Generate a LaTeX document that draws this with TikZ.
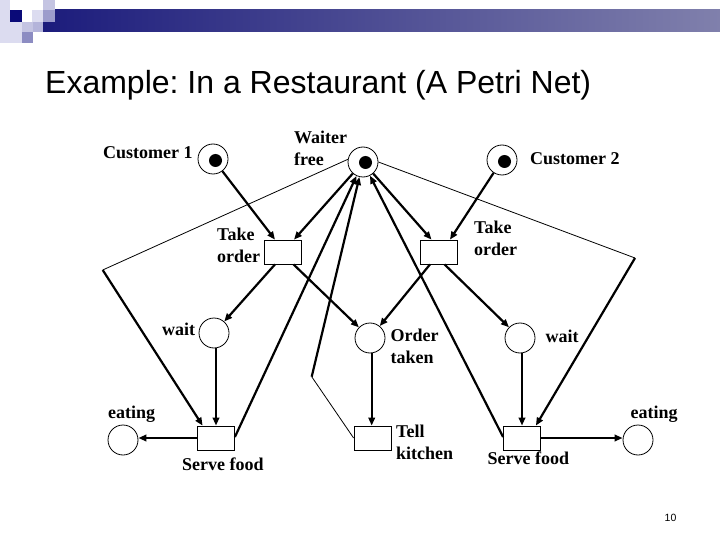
\documentclass[tikz,border=0pt]{standalone}
\usepackage{fontspec}
\setmainfont{Liberation Serif}
\newfontfamily\arialfont{Liberation Sans}
\usetikzlibrary{arrows.meta,calc}
\definecolor{navy}{HTML}{0A0A78}
\definecolor{barL}{HTML}{1C1C7C}
\definecolor{barR}{HTML}{8080AC}
\definecolor{lav1}{HTML}{DCDCF0}
\definecolor{lav2}{HTML}{C4C4E2}
\definecolor{lav3}{HTML}{9C9CCC}
\definecolor{lav4}{HTML}{8C8CC2}
\definecolor{lav5}{HTML}{B4B4DA}
\frenchspacing
\begin{document}
\begin{tikzpicture}[x=1pt,y=-1pt,
  place/.style={draw, circle, line width=0.8pt, minimum size=30pt, inner sep=0pt},
  trans/.style={draw, rectangle, line width=0.8pt, minimum width=37pt, minimum height=24pt, inner sep=0pt},
  token/.style={fill, circle, minimum size=13pt, inner sep=0pt},
  lbl/.style={font=\fontsize{18}{22}\selectfont\bfseries, anchor=base west, inner sep=0pt, align=left},
  arc/.style={line width=2.2pt, -{Triangle[length=8pt,width=6.5pt]}},
  thinarc/.style={line width=0.8pt},
  ]
\useasboundingbox (0,0) rectangle (720,540);
% decoration top-left
\fill[lav1] (0,0) rectangle (10,43);
\fill[lav1] (10,22) rectangle (22,43);
\fill[navy] (10,10) rectangle (22,22);
\fill[lav1] (32,10) rectangle (43,22);
\shade[left color=barL, right color=barR] (43,10) rectangle (720,32);
\fill[lav2] (43,0) rectangle (55,10);
\fill[lav3] (43,10) rectangle (55,22);
\fill[lav2] (22,22) rectangle (33,32);
\fill[lav5] (33,22) rectangle (43,32);
\fill[lav4] (22,32) rectangle (33,43);

% title
\node[font=\arialfont\fontsize{32}{36}\selectfont, anchor=base west, inner sep=0pt] (title) at (45,93.5) {Example: In a Restaurant (A Petri Net)};

% places
\node[place] (c1) at (213,159) {};
\node[place] (wf) at (363,162) {};
\node[place] (c2) at (502,160) {};
\node[place] (w1) at (214,333) {};
\node[place] (ot) at (370,338) {};
\node[place] (w2) at (520,338) {};
\node[place] (e1) at (123,440) {};
\node[place] (e2) at (638,440) {};
% tokens
\node[token] (tok1) at ($(c1)+(2.5,1.5)$) {};
\node[token] (tok2) at ($(wf)+(2.5,0.5)$) {};
\node[token] (tok3) at ($(c2)+(2.5,1.5)$) {};
% transitions
\node[trans] (t1) at (282.5,252) {};
\node[trans] (t2) at (438.5,252) {};
\node[trans] (sf1) at (216,438) {};
\node[trans] (tk) at (372.5,438) {};
\node[trans] (sf2) at (522,438) {};

% labels (base = baseline of the last line)
\node[lbl] (lc1) at (103,159) {Customer 1};
\node[lbl] (lwf) at (294,166) {Waiter\\free};
\node[lbl] (lc2) at (530,165) {Customer 2};
\node[lbl] (lt1) at (217,262) {Take\\order};
\node[lbl] (lt2) at (474,255) {Take\\order};
\node[lbl] (lw1) at (162,335.5) {wait};
\node[lbl] (lot) at (390.5,363.5) {Order\\taken};
\node[lbl] (lw2) at (545.5,342) {wait};
\node[lbl] (le1) at (108,418) {eating};
\node[lbl] (le2) at (630.5,418) {eating};
\node[lbl] (lsf1) at (182,470) {Serve food};
\node[lbl] (ltk) at (396,459) {Tell\\kitchen};
\node[lbl] (lsf2) at (487.5,464) {Serve food};

% page number
\node[font=\arialfont\fontsize{10.5}{12}\selectfont, anchor=base, inner sep=0pt] (pg) at (670.5,521) {10};

% bend points
\coordinate (k1) at (311.7,376.7);
\coordinate (k2) at (102.7,270);
\coordinate (k3) at (635,258);

% arcs
\draw[arc] (c1) -- ([xshift=-7.5pt]t1.north);
\draw[arc] (wf) -- ([xshift=11.5pt]t1.north);
\draw[arc] (c2) -- ([xshift=11.5pt]t2.north);
\draw[arc] (wf) -- ([xshift=-7pt]t2.north);
\draw[arc] ([xshift=-7.5pt]t1.south) -- (w1);
\draw[arc] ([xshift=11pt]t1.south) -- (ot);
\draw[arc] ([xshift=-8.5pt]t2.south) -- (ot);
\draw[arc] ([xshift=6pt]t2.south) -- (w2);
\draw[arc] (sf1.north |- w1.south) -- (sf1.north);
\draw[arc] ([xshift=-0.8pt]tk.north |- ot.south) -- ([xshift=-0.8pt]tk.north);
\draw[arc] (sf2.north |- w2.south) -- (sf2.north);
\draw[arc] (sf1.west) -- (sf1.west -| e1.east);
\draw[arc] (sf2.east) -- (sf2.east -| e2.west);
\draw[arc] ([yshift=1pt]sf1.east) -- (wf);
\draw[thinarc] (tk.west) -- (k1);
\draw[arc] (k1) -- (wf);
\draw[arc] ([yshift=1pt]sf2.west) -- (wf);
\draw[thinarc] (wf.170) -- (k2);
\draw[arc] (k2) -- ([xshift=5.5pt]sf1.north west);
\draw[thinarc] (wf.east) -- (k3);
\draw[arc] (k3) -- ([xshift=-5pt]sf2.north east);
\end{tikzpicture}
\end{document}
